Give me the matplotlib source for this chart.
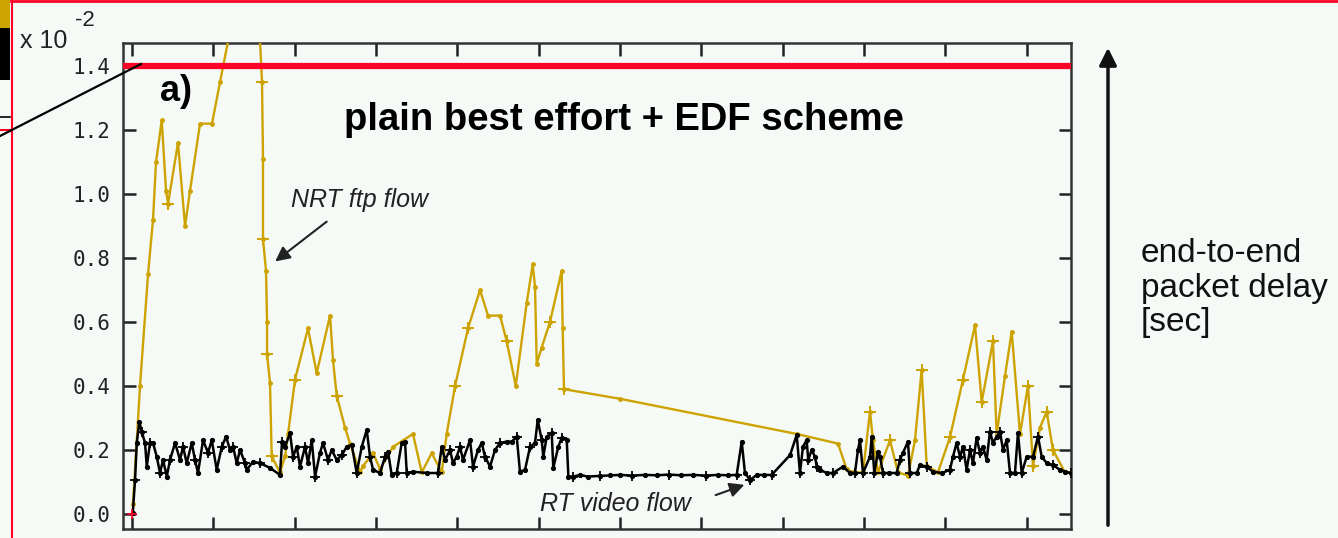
import matplotlib
matplotlib.use("Agg")
import matplotlib.pyplot as plt
from matplotlib.lines import Line2D
from matplotlib.patches import FancyArrowPatch, Rectangle

# time axis (unlabelled ticks) and delay in units of 1e-2 s
nrt_x = [0.012, 0.098, 0.197, 0.258, 0.295, 0.365, 0.418, 0.443, 0.565, 0.652,
         0.713, 0.836, 0.983, 1.082, 1.39, 1.56, 1.598, 1.610, 1.610, 1.647,
         1.660, 1.660, 1.696, 1.717, 1.819, 1.881, 1.918, 2.004, 2.163, 2.270,
         2.434, 2.471, 2.516, 2.618, 2.680, 2.803, 2.840, 2.963, 3.049, 3.208,
         3.454, 3.561, 3.684, 3.807, 3.868, 3.971, 4.130, 4.278, 4.376, 4.524,
         4.606, 4.717, 4.852, 4.926, 4.954, 4.975, 5.036, 5.138, 5.282, 5.294,
         5.310, 5.999, 8.171, 8.679, 8.785, 8.863, 8.986, 9.072, 9.109, 9.170,
         9.318, 9.416, 9.539, 9.625, 9.707, 9.769, 9.908, 10.055, 10.215, 10.363,
         10.445, 10.584, 10.629, 10.731, 10.814, 10.916, 11.014, 11.076, 11.162, 11.244,
         11.321, 11.469, 11.543]
nrt_y = [0.03, 0.40, 0.75, 0.92, 1.10, 1.23, 1.01, 0.97, 1.16, 0.90,
         1.01, 1.22, 1.22, 1.35, 1.75, 1.55, 1.35, 1.11, 0.86, 0.76,
         0.60, 0.50, 0.41, 0.18, 0.13, 0.18, 0.25, 0.42, 0.58, 0.44,
         0.62, 0.48, 0.37, 0.27, 0.22, 0.13, 0.15, 0.19, 0.14, 0.21,
         0.25, 0.13, 0.19, 0.13, 0.25, 0.40, 0.58, 0.70, 0.62, 0.62,
         0.54, 0.40, 0.66, 0.78, 0.71, 0.47, 0.52, 0.60, 0.76, 0.58,
         0.39, 0.36, 0.25, 0.22, 0.14, 0.13, 0.13, 0.32, 0.23, 0.13,
         0.23, 0.13, 0.12, 0.23, 0.45, 0.15, 0.13, 0.24, 0.42, 0.59,
         0.35, 0.54, 0.25, 0.43, 0.57, 0.25, 0.40, 0.15, 0.27, 0.32,
         0.20, 0.13, 0.13]
nrt_plus = [7, 16, 18, 21, 23, 27, 32, 45, 46, 50, 57, 60, 67, 70, 74, 77, 78, 80, 81, 86, 87, 89, 90]

rt_x = [0.009, 0.037, 0.058, 0.090, 0.119, 0.160, 0.181, 0.221, 0.258, 0.304,
        0.344, 0.381, 0.427, 0.467, 0.529, 0.590, 0.627, 0.672, 0.734, 0.774,
        0.811, 0.873, 0.934, 0.980, 1.041, 1.103, 1.156, 1.205, 1.242, 1.287,
        1.328, 1.389, 1.410, 1.487, 1.573, 1.696, 1.819, 1.844, 1.881, 1.942,
        1.979, 2.025, 2.065, 2.127, 2.164, 2.209, 2.250, 2.311, 2.348, 2.409,
        2.455, 2.516, 2.578, 2.639, 2.701, 2.762, 2.824, 2.885, 2.926, 2.963,
        3.049, 3.110, 3.147, 3.192, 3.254, 3.315, 3.356, 3.377, 3.454, 3.623,
        3.762, 3.807, 3.848, 3.909, 3.946, 3.991, 4.032, 4.069, 4.155, 4.192,
        4.253, 4.299, 4.339, 4.401, 4.462, 4.524, 4.606, 4.668, 4.729, 4.769,
        4.831, 4.893, 4.954, 4.987, 5.036, 5.056, 5.098, 5.159, 5.179, 5.240,
        5.282, 5.344, 5.364, 5.425, 5.507, 5.600, 5.753, 5.880, 5.999, 6.150,
        6.300, 6.450, 6.600, 6.750, 6.900, 7.050, 7.200, 7.330, 7.433, 7.495,
        7.535, 7.597, 7.679, 7.770, 7.863, 8.089, 8.171, 8.211, 8.248, 8.293,
        8.313, 8.355, 8.396, 8.417, 8.457, 8.540, 8.617, 8.740, 8.826, 8.887,
        8.924, 8.949, 8.986, 9.072, 9.093, 9.125, 9.170, 9.195, 9.232, 9.310,
        9.400, 9.440, 9.477, 9.539, 9.563, 9.646, 9.686, 9.769, 9.846, 9.953,
        10.055, 10.092, 10.137, 10.178, 10.215, 10.260, 10.301, 10.338, 10.383, 10.424,
        10.461, 10.506, 10.547, 10.584, 10.629, 10.670, 10.707, 10.752, 10.793, 10.854,
        10.891, 10.937, 10.998, 11.076, 11.137, 11.183, 11.244, 11.321, 11.407, 11.475,
        11.543]
rt_y = [0.003, 0.106, 0.222, 0.288, 0.257, 0.222, 0.148, 0.222, 0.222, 0.179,
        0.128, 0.169, 0.117, 0.169, 0.222, 0.169, 0.210, 0.159, 0.222, 0.169,
        0.128, 0.231, 0.191, 0.231, 0.138, 0.210, 0.242, 0.200, 0.210, 0.159,
        0.200, 0.159, 0.138, 0.163, 0.159, 0.144, 0.122, 0.226, 0.210, 0.253,
        0.179, 0.210, 0.148, 0.210, 0.159, 0.231, 0.117, 0.191, 0.222, 0.169,
        0.200, 0.169, 0.184, 0.210, 0.216, 0.128, 0.210, 0.263, 0.179, 0.138,
        0.128, 0.179, 0.195, 0.122, 0.128, 0.222, 0.226, 0.128, 0.132, 0.128,
        0.128, 0.210, 0.169, 0.200, 0.159, 0.179, 0.210, 0.169, 0.231, 0.148,
        0.200, 0.222, 0.179, 0.148, 0.200, 0.222, 0.226, 0.226, 0.242, 0.132,
        0.138, 0.210, 0.222, 0.294, 0.231, 0.179, 0.242, 0.253, 0.144, 0.210,
        0.238, 0.231, 0.117, 0.117, 0.122, 0.117, 0.119, 0.121, 0.122, 0.120,
        0.122, 0.121, 0.123, 0.121, 0.122, 0.120, 0.122, 0.121, 0.122, 0.226,
        0.128, 0.106, 0.122, 0.122, 0.122, 0.184, 0.247, 0.128, 0.210, 0.231,
        0.169, 0.200, 0.179, 0.148, 0.138, 0.128, 0.128, 0.148, 0.128, 0.128,
        0.200, 0.231, 0.128, 0.179, 0.242, 0.128, 0.195, 0.179, 0.128, 0.128,
        0.128, 0.169, 0.191, 0.226, 0.128, 0.128, 0.153, 0.148, 0.132, 0.128,
        0.138, 0.179, 0.222, 0.179, 0.210, 0.138, 0.200, 0.159, 0.238, 0.191,
        0.210, 0.169, 0.257, 0.222, 0.242, 0.257, 0.200, 0.231, 0.128, 0.128,
        0.253, 0.128, 0.179, 0.179, 0.242, 0.179, 0.159, 0.153, 0.138, 0.132,
        0.128]

bound = 1.4
yticks = [0.0, 0.2, 0.4, 0.6, 0.8, 1.0, 1.2, 1.4]
xticks = list(range(12))

BG = "#f6faf7"
GOLD = "#cca300"
RED = "#ff0027"

plt.rcParams["font.family"] = ["Liberation Sans", "DejaVu Sans"]

fig = plt.figure(figsize=(13.38, 5.38), dpi=100, facecolor=BG)
ax = fig.add_axes([123 / 1338, 1 - 529 / 538, 948 / 1338, 486 / 538])
ax.set_facecolor(BG)

ax.plot(nrt_x, nrt_y, color=GOLD, lw=1.7, marker=".", ms=5, zorder=3)
ax.plot([nrt_x[i] for i in nrt_plus], [nrt_y[i] for i in nrt_plus], ls="none",
        marker="+", ms=8, mew=1.4, color=GOLD, zorder=3)
ax.plot(rt_x, rt_y, color="black", lw=1.8, marker=".", ms=5.5, zorder=4)
ax.plot(rt_x[1::3], rt_y[1::3], ls="none", marker="+", ms=7, mew=1.3, color="black", zorder=4)
ax.plot([0.0], [0.0], ls="none", marker="+", ms=7, mew=1.2, color=RED, zorder=5)

ax.axhline(bound, color=RED, lw=4.5, zorder=6)

ax.set_xlim(-0.111, 11.543)
ax.set_ylim(-0.047, 1.472)
ax.set_xticks(xticks)
ax.set_xticklabels([])
ax.set_yticks(yticks)
ax.set_yticklabels(["%.1f" % v for v in yticks], family="DejaVu Sans Mono", fontsize=15, color="#222222")
ax.tick_params(direction="in", length=9, width=1.8, top=True, right=True, pad=9, colors="#222222")
for s in ax.spines.values():
    s.set_linewidth(1.8)
    s.set_color("#333333")

# annotations
ax.text(0.344, 1.32, "a)", fontsize=26, fontweight="bold", va="center", ha="left")
ax.text(6.048, 1.23, "plain best effort + EDF scheme", fontsize=27.5, fontweight="bold",
        va="center", ha="center")
ax.text(1.955, 0.98, "NRT ftp flow", fontsize=18, style="italic", va="center", ha="left", color="#222222")
ax.annotate("", xy=(1.733, 0.784), xytext=(2.42, 0.919),
            arrowprops=dict(arrowstyle="-|>", color="#222222", lw=1.5, mutation_scale=22))
ax.text(5.015, 0.031, "RT video flow", fontsize=18, style="italic", va="center", ha="left", color="#222222")
ax.annotate("", xy=(7.56, 0.094), xytext=(7.142, 0.056),
            arrowprops=dict(arrowstyle="-|>", color="#222222", lw=1.5, mutation_scale=22))

# exponent label
fig.text(20 / 1338, 1 - 48 / 538, "x 10", fontsize=18, va="baseline", ha="left", color="#222222")
fig.text(75 / 1338, 1 - 26 / 538, "-2", fontsize=16, va="baseline", ha="left", color="#222222")

# right side axis arrow and label
fig.add_artist(FancyArrowPatch((1108 / 1338, 1 - 528 / 538), (1108 / 1338, 1 - 45 / 538),
                               transform=fig.transFigure, arrowstyle="-|>", mutation_scale=26,
                               color="#111111", lw=2.5))
fig.text(1141 / 1338, 1 - 288 / 538, "end-to-end\npacket delay\n[sec]", fontsize=24,
         va="center", ha="left", linespacing=1.15, color="#111111")

# screenshot leftovers: red frame, clipped strip at the left, connector line
fig.add_artist(Rectangle((0, 1 - 30 / 538), 10 / 1338, 30 / 538, transform=fig.transFigure,
                         color=GOLD, lw=0))
fig.add_artist(Rectangle((0, 1 - 80 / 538), 10 / 1338, 52 / 538, transform=fig.transFigure,
                         color="black", lw=0))
fig.add_artist(Line2D([0, 10 / 1338], [1 - 117 / 538] * 2, transform=fig.transFigure, color="black", lw=1.2))
fig.add_artist(Line2D([0, 11 / 1338], [1 - 130 / 538] * 2, transform=fig.transFigure, color=RED, lw=1.5))
fig.add_artist(Line2D([11.5 / 1338] * 2, [0, 1], transform=fig.transFigure, color=RED, lw=1.5))
fig.add_artist(Line2D([11 / 1338, 1], [1 - 1 / 538] * 2, transform=fig.transFigure, color=RED, lw=2))
fig.add_artist(Line2D([0, 141 / 1338], [1 - 136 / 538, 1 - 64 / 538], transform=fig.transFigure,
                      color="black", lw=1.6, zorder=10))

fig.savefig("out.png", dpi=100, facecolor=BG)
